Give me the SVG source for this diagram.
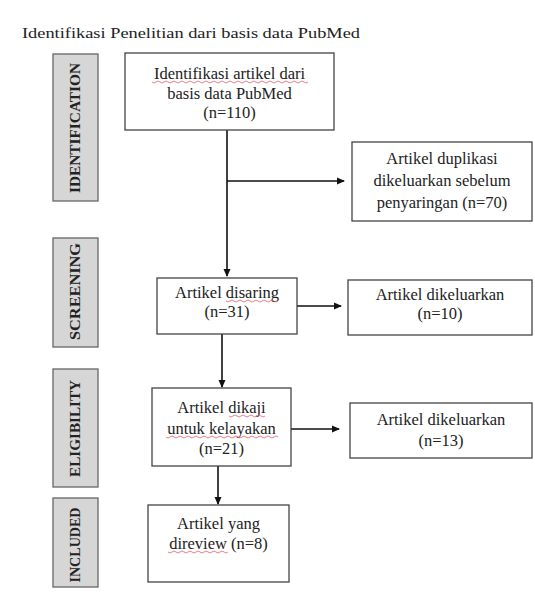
<svg xmlns="http://www.w3.org/2000/svg" width="535" height="597" viewBox="0 0 535 597">
<defs>
<marker id="ah" markerWidth="8" markerHeight="8" refX="7" refY="4" orient="auto" markerUnits="userSpaceOnUse">
<path d="M0,0.5 L8,4 L0,7.5 Z" fill="#111"/>
</marker>
<style>
.box{fill:#fff;stroke:#444;stroke-width:1.3}
.lbl{fill:#d6d6d6;stroke:#666;stroke-width:1.3}
.t{font-family:"Liberation Serif","Times New Roman",serif;font-size:16.5px;fill:#222;text-anchor:middle}
.s{font-family:"Liberation Serif","Times New Roman",serif;font-size:14px;font-weight:bold;fill:#222;text-anchor:middle}
.ln{stroke:#111;stroke-width:1.6;fill:none}
.sq{stroke:#e06070;stroke-width:0.8;fill:none}
</style>
</defs>
<rect width="535" height="597" fill="#fff"/>
<text x="22" y="38" font-family="Liberation Serif, serif" font-size="15" fill="#222" textLength="338" lengthAdjust="spacingAndGlyphs">Identifikasi Penelitian dari basis data PubMed</text>

<g id="label-identification">
<rect class="lbl" x="53" y="54" width="45" height="147"/>
<text class="s" transform="translate(80,128) rotate(-90)" textLength="130" lengthAdjust="spacingAndGlyphs">IDENTIFICATION</text>
</g>
<g id="label-screening">
<rect class="lbl" x="53" y="238" width="45" height="109"/>
<text class="s" transform="translate(80,291.5) rotate(-90)" textLength="97" lengthAdjust="spacingAndGlyphs">SCREENING</text>
</g>
<g id="label-eligibility">
<rect class="lbl" x="53" y="369" width="45" height="118"/>
<text class="s" transform="translate(80,428.5) rotate(-90)" textLength="97" lengthAdjust="spacingAndGlyphs">ELIGIBILITY</text>
</g>
<g id="label-included">
<rect class="lbl" x="53" y="498" width="45" height="89"/>
<text class="s" transform="translate(80,545) rotate(-90)" textLength="75" lengthAdjust="spacingAndGlyphs">INCLUDED</text>
</g>

<g id="connectors">
<line class="ln" x1="227" y1="130" x2="227" y2="276" marker-end="url(#ah)"/>
<line class="ln" x1="227" y1="181" x2="344" y2="181" marker-end="url(#ah)"/>
<line class="ln" x1="297" y1="306" x2="341" y2="306" marker-end="url(#ah)"/>
<line class="ln" x1="222" y1="334" x2="222" y2="387" marker-end="url(#ah)"/>
<line class="ln" x1="291" y1="429" x2="339" y2="429" marker-end="url(#ah)"/>
<line class="ln" x1="218" y1="466" x2="218" y2="504" marker-end="url(#ah)"/>
</g>

<g id="box-identifikasi">
<rect class="box" x="125" y="53" width="209" height="77" stroke="#888"/>
<text class="t" x="229.5" y="79">Identifikasi artikel dari</text>
<path class="sq" d="M152,82 q2,2 4,0 t4,0 t4,0 t4,0 t4,0 t4,0 t4,0 t4,0 t4,0 t4,0 t4,0 t4,0 t4,0 t4,0 t4,0 t4,0 t4,0 t4,0 t4,0 t4,0 t4,0 t4,0 t4,0 t4,0 t4,0 t4,0 t4,0 t4,0 t4,0 t4,0 t4,0 t4,0 t4,0 t4,0 t4,0 t4,0 t4,0 t4,0 t4,0"/>
<text class="t" x="229.5" y="99">basis data PubMed</text>
<text class="t" x="229.5" y="118">(n=110)</text>
</g>

<g id="box-duplikasi">
<rect class="box" x="352" y="142" width="180" height="79"/>
<text class="t" x="442" y="164">Artikel duplikasi</text>
<text class="t" x="442" y="186">dikeluarkan sebelum</text>
<text class="t" x="442" y="208">penyaringan (n=70)</text>
</g>

<g id="box-disaring">
<rect class="box" x="157" y="278" width="140" height="56" stroke="#999"/>
<text class="t" x="227" y="298">Artikel disaring</text>
<path class="sq" d="M226,301 q2,2 4,0 t4,0 t4,0 t4,0 t4,0 t4,0 t4,0 t4,0 t4,0 t4,0 t4,0 t4,0 t4,0"/>
<text class="t" x="227" y="317">(n=31)</text>
</g>

<g id="box-dikeluarkan-1">
<rect class="box" x="348" y="280" width="184" height="55"/>
<text class="t" x="440" y="300">Artikel dikeluarkan</text>
<text class="t" x="440" y="319">(n=10)</text>
</g>

<g id="box-dikaji">
<rect class="box" x="152" y="388" width="139" height="78" stroke="#777"/>
<text class="t" x="221.5" y="413">Artikel dikaji</text>
<path class="sq" d="M229,416 q2,2 4,0 t4,0 t4,0 t4,0 t4,0 t4,0 t4,0 t4,0 t4,0"/>
<text class="t" x="221.5" y="434">untuk kelayakan</text>
<path class="sq" d="M166,437 q2,2 4,0 t4,0 t4,0 t4,0 t4,0 t4,0 t4,0 t4,0 t4,0 t4,0 t4,0 t4,0 t4,0 t4,0 t4,0 t4,0 t4,0 t4,0 t4,0 t4,0 t4,0 t4,0 t4,0 t4,0 t4,0 t4,0 t4,0 t4,0"/>
<text class="t" x="221.5" y="454">(n=21)</text>
</g>

<g id="box-dikeluarkan-2">
<rect class="box" x="350" y="403" width="182" height="55"/>
<text class="t" x="441" y="425">Artikel dikeluarkan</text>
<text class="t" x="441" y="446">(n=13)</text>
</g>

<g id="box-included">
<rect class="box" x="148" y="505" width="141" height="77" stroke="#666"/>
<text class="t" x="218.5" y="529">Artikel yang</text>
<text class="t" x="218.5" y="549">direview (n=8)</text>
<path class="sq" d="M168,552 q2,2 4,0 t4,0 t4,0 t4,0 t4,0 t4,0 t4,0 t4,0 t4,0 t4,0 t4,0 t4,0 t4,0 t4,0 t4,0"/>
</g>
</svg>
